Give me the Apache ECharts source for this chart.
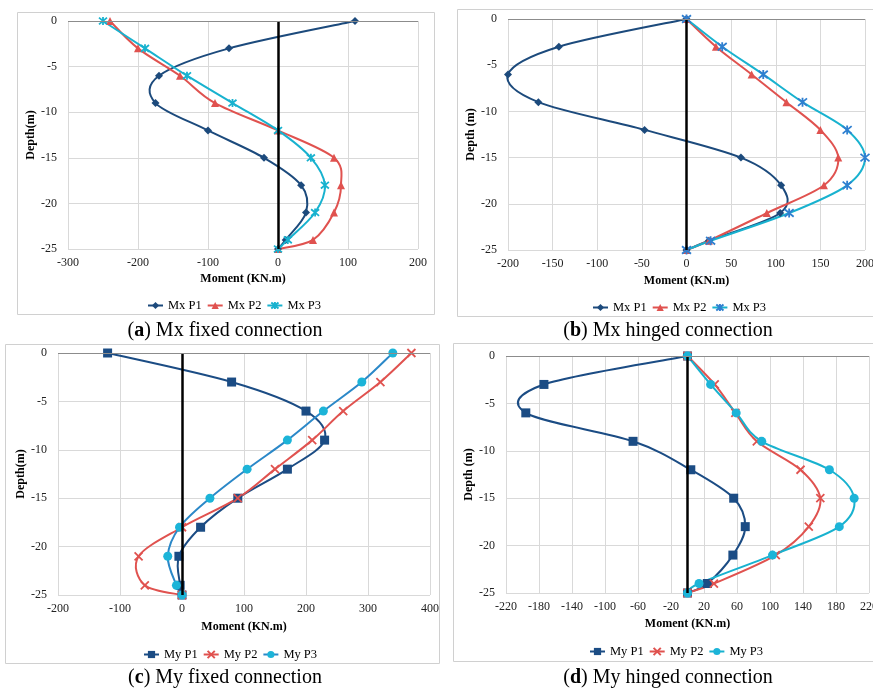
<!DOCTYPE html>
<html>
<head>
<meta charset="utf-8">
<script src="https://cdn.jsdelivr.net/npm/echarts@6/dist/echarts.min.js"></script>
<style>
html,body{margin:0;padding:0;background:#fff;}
#c{width:873px;height:690px;}
</style>
</head>
<body>
<div id="c"></div>
<script>
// ---------- data ----------
var depth = [0, -3, -6, -9, -12, -15, -18, -21, -24, -25];

var mxFixedP1 = [110, -70, -170, -175, -100, -20, 33, 40, 11, 0];
var mxFixedP2 = [-240, -200, -140, -90, 0, 80, 90, 80, 50, 0];
var mxFixedP3 = [-250, -190, -130, -65, 0, 47, 67, 53, 14, 0];

var mxHingedP1 = [0, -143, -200, -166, -47, 61, 106, 105, 25, 0];
var mxHingedP2 = [0, 33, 73, 112, 150, 170, 154, 90, 25, 0];
var mxHingedP3 = [0, 40, 86, 130, 180, 200, 180, 115, 27, 0];

var myFixedP1 = [-120, 80, 200, 230, 170, 90, 30, -5, -3, 0];
var myFixedP2 = [370, 320, 260, 210, 150, 90, 0, -70, -60, 0];
var myFixedP3 = [340, 290, 228, 170, 105, 45, -4, -23, -9, 0];

var myHingedP1 = [0, -174, -196, -66, 4, 56, 70, 55, 24, 0];
var myHingedP2 = [0, 33, 58, 84, 137, 161, 147, 107, 32, 0];
var myHingedP3 = [0, 28, 59, 90, 172, 202, 184, 103, 14, 0];

var mxNames = ['Mx P1', 'Mx P2', 'Mx P3'];
var myNames = ['My P1', 'My P2', 'My P3'];
var hingedMyTicks = [-220, -180, -140, -100, -60, -20, 20, 60, 100, 140, 180, 220];
var captions = [
  ['a', ' Mx fixed connection'],
  ['b', ' Mx hinged connection'],
  ['c', ' My fixed connection'],
  ['d', ' My hinged connection']
];

// ---------- styling ----------
var FONT = '"Liberation Serif", "Times New Roman", serif';
var C1 = '#1c4a7c', C2 = '#e0524f', C3 = '#18b2cf';
var GRID_C = '#d9d9d9';
var STAR = 'path://M0,0L10,10M10,0L0,10M5,-1L5,11';
var CROSS = 'path://M0,0L10,10M10,0L0,10';

function pairs(xs) { return xs.map(function (v, i) { return [v, depth[i]]; }); }

var grids = [
  {left: 68, top: 21, width: 350, height: 228},
  {left: 508, top: 19, width: 357, height: 231},
  {left: 58, top: 353, width: 372, height: 242},
  {left: 506, top: 356, width: 363, height: 237}
].map(function (g) { g.outerBoundsMode = 'none'; g.containLabel = false; return g; });
var xCfg = [
  {min: -300, max: 200, interval: 100, gap: 24},
  {min: -200, max: 200, interval: 50, gap: 25},
  {min: -200, max: 400, interval: 100, gap: 26},
  {min: -220, max: 220, interval: 20, gap: 25, custom: hingedMyTicks}
];
var yGap = [24, 24, 25, 27];
var yTitle = ['Depth(m)', 'Depth (m)', 'Depth(m)', 'Depth (m)'];

var xAxes = [], yAxes = [], series = [], legends = [], graphics = [];

grids.forEach(function (g, i) {
  var xc = xCfg[i];
  var xa = {
    gridIndex: i, type: 'value', min: xc.min, max: xc.max, interval: xc.interval,
    name: 'Moment (KN.m)', nameLocation: 'middle', nameGap: xc.gap,
    nameTextStyle: {fontFamily: FONT, fontSize: 12, fontWeight: 'bold', color: '#000'},
    axisLine: {show: false}, axisTick: {show: false},
    axisLabel: {fontFamily: FONT, fontSize: 12, color: '#222', margin: 8, showMaxLabel: true, showMinLabel: true, hideOverlap: false},
    splitLine: {show: true, lineStyle: {color: GRID_C, width: 1}}
  };
  if (xc.custom) {
    xa.axisLabel.customValues = xc.custom;
    xa.axisTick = {show: false, customValues: xc.custom};
  }
  xAxes.push(xa);
  yAxes.push({
    gridIndex: i, type: 'value', min: -25, max: 0, interval: 5,
    name: yTitle[i], nameLocation: 'middle', nameGap: yGap[i], nameRotate: 90,
    nameTextStyle: {fontFamily: FONT, fontSize: 12, fontWeight: 'bold', color: '#000'},
    axisLine: {show: false}, axisTick: {show: false},
    axisLabel: {fontFamily: FONT, fontSize: 12, color: '#222', margin: 11},
    splitLine: {show: true, lineStyle: {color: GRID_C, width: 1}}
  });
});

// smooth curve (Excel-like Catmull-Rom) drawn from data through the axes' coord()
function curveSeries(data, idx, color) {
  var pts = pairs(data);
  return {
    type: 'custom', xAxisIndex: idx, yAxisIndex: idx, data: pts,
    encode: {x: 0, y: 1}, z: 2, silent: true,
    renderItem: function (params, api) {
      if (params.dataIndex !== 0) return null;
      var p = pts.map(function (d) { return api.coord(d); });
      var s = 'M' + p[0][0] + ',' + p[0][1];
      for (var i = 0; i < p.length - 1; i++) {
        var a = p[i - 1] || p[i], b = p[i], c = p[i + 1], d = p[i + 2] || p[i + 1];
        var c1x = b[0] + (c[0] - a[0]) / 6, c1y = b[1] + (c[1] - a[1]) / 6;
        var c2x = c[0] - (d[0] - b[0]) / 6, c2y = c[1] - (d[1] - b[1]) / 6;
        s += 'C' + c1x + ',' + c1y + ',' + c2x + ',' + c2y + ',' + c[0] + ',' + c[1];
      }
      return {type: 'path', shape: {pathData: s},
        style: {stroke: color, fill: 'none', lineWidth: 2, lineJoin: 'round'}};
    }
  };
}
function mkSeries(name, data, idx, lineColor, symColor, symbol, size, stroke) {
  series.push(curveSeries(data, idx, lineColor));
  series.push({
    type: 'line', name: name, xAxisIndex: idx, yAxisIndex: idx,
    data: pairs(data), symbol: symbol, symbolSize: size,
    showAllSymbol: true, z: 3,
    lineStyle: {color: lineColor, width: 0, opacity: 0},
    itemStyle: {color: symColor, borderColor: symColor, borderWidth: stroke ? 1.8 : 0}
  });
}
function zeroLines(idx) {
  series.push({
    type: 'line', xAxisIndex: idx, yAxisIndex: idx, data: [], z: 1,
    markLine: {
      silent: true, symbol: ['none', 'none'], label: {show: false},
      animation: false,
      data: [
        {xAxis: 0, lineStyle: {color: '#000', width: 2.5, type: 'solid'}},
        {yAxis: 0, lineStyle: {color: '#8c8c8c', width: 1.2, type: 'solid'}}
      ]
    }
  });
}

// (a)
zeroLines(0);
mkSeries('Mx P1', mxFixedP1, 0, C1, C1, 'diamond', 8);
mkSeries('Mx P2', mxFixedP2, 0, C2, C2, 'triangle', 8);
mkSeries('Mx P3', mxFixedP3, 0, C3, C3, STAR, 8, true);
// (b)
zeroLines(1);
mkSeries('Mx P1', mxHingedP1, 1, C1, C1, 'diamond', 8);
mkSeries('Mx P2', mxHingedP2, 1, C2, C2, 'triangle', 8);
mkSeries('Mx P3', mxHingedP3, 1, C3, '#2f7fd0', STAR, 9, true);
// (c)
zeroLines(2);
mkSeries('My P1', myFixedP1, 2, '#1b4c84', '#1b4c84', 'rect', 9);
mkSeries('My P2', myFixedP2, 2, C2, C2, CROSS, 8, true);
mkSeries('My P3', myFixedP3, 2, '#2b88c8', '#1cb4d8', 'circle', 9);
// (d)
zeroLines(3);
mkSeries('My P1', myHingedP1, 3, '#1b4c84', '#1b4c84', 'rect', 9);
mkSeries('My P2', myHingedP2, 3, C2, C2, CROSS, 8, true);
mkSeries('My P3', myHingedP3, 3, C3, '#1cb4d8', 'circle', 9);

var legendPos = [
  {left: 142, top: 294}, {left: 587, top: 296}, {left: 138, top: 643}, {left: 584, top: 640}
];
var legendStyles = [
  [[C1, C1], [C2, C2], [C3, C3]],
  [[C1, C1], [C2, C2], [C3, '#2f7fd0']],
  [['#1b4c84', '#1b4c84'], [C2, C2], ['#2b88c8', '#1cb4d8']],
  [['#1b4c84', '#1b4c84'], [C2, C2], [C3, '#1cb4d8']]
];
legendPos.forEach(function (p, i) {
  var names = i < 2 ? mxNames : myNames;
  legends.push({
    left: p.left, top: p.top, orient: 'horizontal', itemWidth: 15, itemHeight: 9, itemGap: 5,
    selectedMode: false,
    textStyle: {fontFamily: FONT, fontSize: 12.5, color: '#000'},
    data: names.map(function (n, k) {
      return {name: n, itemStyle: {color: legendStyles[i][k][1], borderColor: legendStyles[i][k][1]},
              lineStyle: {color: legendStyles[i][k][0], width: 2, opacity: 1}};
    })
  });
});

// panel frames and captions
var frames = [
  {x: 17, y: 12, w: 417, h: 302},
  {x: 457, y: 9, w: 430, h: 307},
  {x: 5, y: 344, w: 434, h: 319},
  {x: 453, y: 343, w: 430, h: 318}
];
frames.forEach(function (f) {
  graphics.push({type: 'rect', shape: {x: f.x + 0.5, y: f.y + 0.5, width: f.w, height: f.h},
    style: {fill: 'none', stroke: '#d0d0d0', lineWidth: 1}, silent: true, z: 0});
});
var capPos = [[225, 331], [668, 331], [225, 678], [668, 678]];
capPos.forEach(function (p, i) {
  graphics.push({
    type: 'text', x: p[0], y: p[1], silent: true,
    style: {
      text: '(' + '{b|' + captions[i][0] + '})' + captions[i][1],
      rich: {b: {fontFamily: FONT, fontSize: 20, fontWeight: 'bold', fill: '#000'}},
      font: '20px ' + FONT, fill: '#000', align: 'center', verticalAlign: 'middle'
    }
  });
});

var chart = echarts.init(document.getElementById('c'), null, {renderer: 'canvas'});
chart.setOption({
  animation: false,
  backgroundColor: '#fff',
  grid: grids,
  xAxis: xAxes,
  yAxis: yAxes,
  legend: legends,
  series: series,
  graphic: graphics
});
</script>
</body>
</html>
